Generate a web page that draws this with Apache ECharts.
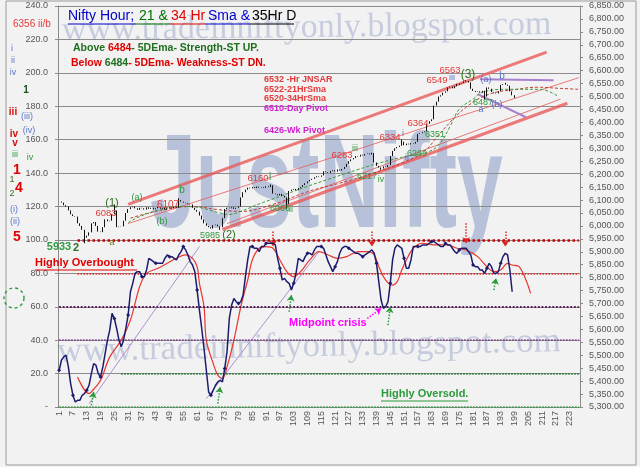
<!DOCTYPE html>
<html><head><meta charset="utf-8">
<script src="https://cdn.jsdelivr.net/npm/echarts@6/dist/echarts.min.js"></script>
<style>html,body{margin:0;padding:0;background:#f2f2f2;}#c{width:640px;height:467px;}</style>
</head><body><div id="c"></div>
<script>
// ---------- DATA ----------
const categories = [];
for (let k = 1; k <= 227; k++) categories.push(String(k));

const leftTicks = [0,20,40,60,80,100,120,140,160,180,200,220,240];

const priceClose = [
6094,6090,6080,6075,6060,6045,6038,6036,6010,6000,
5985,5955,5962,5975,6010,6015,6000,5978,5976,5995,
6025,6018,6020,6045,6060,5995,5997,5998,6020,6050,
6065,6072,6075,6068,6062,6070,6068,6063,6072,6066,
6070,6064,6068,6073,6066,6070,6062,6068,6072,6068,
6074,6070,6100,6094,6090,6088,6085,6083,6070,6062,
6055,6040,6025,6010,6000,5995,5990,6003,6005,5998,
5995,6030,6065,6070,6068,6072,6066,6070,6075,6110,
6130,6140,6148,6145,6150,6146,6152,6148,6150,6147,
6153,6150,6157,6125,6122,6118,6124,6116,6110,6085,
6135,6140,6143,6138,6146,6150,6158,6165,6172,6178,
6182,6188,6192,6190,6195,6211,6208,6205,6212,6215,
6210,6218,6214,6220,6228,6240,6250,6257,6262,6270,
6268,6275,6272,6278,6280,6276,6282,6245,6232,6226,
6222,6230,6228,6235,6270,6290,6300,6305,6310,6325,
6312,6318,6315,6320,6318,6325,6355,6358,6362,6365,
6395,6405,6412,6465,6480,6500,6505,6515,6520,6535,
6538,6532,6540,6545,6550,6552,6558,6560,6555,6530,
6522,6518,6520,6515,6522,6500,6535,6530,6518,6515,
6512,6520,6545,6548,6546,6542,6520,6505,6495];

// [bar number, low extreme, high extreme]
const priceWicks = [[12,5933,null],[25,null,6083],[53,null,6107],[71,5985,null],[93,null,6160],
  [100,6066,null],[137,null,6283],[141,6217,null],[150,null,6334],[174,null,6549],
  [178,null,6563],[186,6487,null],[195,null,6553]];

const oscValues = [
22,28,30,31,24,14,7,3,4,4, 7,8,10,13,20,26,25,20,18,24,
32,40,46,56,53,47,40,36,40,47, 55,69,74,80,81,81,78,78,82,89,
88,87,86,86,86,86,89,91,90,90, 89,88,91,93,96,94,91,87,85,81,
70,58,47,35,22,9,7,10,13,15, 16,15,23,33,53,61,65,63,62,63,
67,78,88,96,96,95,95,93,96,96, 98,98,98,98,97,89,83,76,77,75,
74,70,74,80,89,88,87,90,92,92, 91,94,96,96,96,95,91,87,84,81,
84,87,92,95,96,96,95,94,93,92, 92,91,90,91,92,93,94,92,86,75,
64,59,60,63,74,88,95,97,96,95, 89,83,83,88,96,96,96,96,97,97,
97,98,99,99,98,97,96,96,98,97, 97,95,93,92,94,95,95,95,93,91,
85,84,84,82,82,80,83,86,84,80, 80,81,86,90,92,91,82,69];

const oscSignal = [[9,18],[14,8],[15,9],[19,16],[23,30],[28,40],[32,52],[36,72],[39,80],[44,83],[48,86],
 [52,89],[56,91],[59,89],[61,84],[62,74],[64,60],[65,40],[68,26],[70,19],[72,17],[74,24],[77,40],[80,60],
 [83,76],[85,88],[88,95],[91,96],[94,95],[97,88],[100,81],[103,78],[106,81],[110,88],[114,93],[118,91],
 [122,89],[126,90],[131,93],[135,93],[138,91],[140,84],[143,76],[146,73],[148,75],[150,82],[152,88],
 [155,95],[159,98],[165,97],[170,97],[174,95],[178,94],[183,90],[187,84],[190,81],[193,82],[196,86],
 [198,85],[201,84],[204,76],[206,68]];

const sma21 = [[31,6013],[36,6036],[45,6063],[54,6075],[62,6071],[70,6052],[75,6044],[80,6056],[88,6085],
 [97,6114],[109,6153],[118,6180],[131,6218],[141,6245],[152,6269],[162,6288],[167,6323],[171,6385],
 [175,6451],[181,6490],[185,6517],[196,6528],[210,6528],[218,6501]];

const sma34 = [[32,6030],[45,6060],[59,6075],[70,6063],[80,6056],[94,6083],[110,6135],[123,6165],
 [138,6205],[152,6250],[160,6290],[167,6362],[178,6459],[188,6509],[200,6528],[209,6536],[218,6532],[227,6528]];

const channelUpper = [[31,6083],[213,6672]];
const channelMid   = [[31,6009],[227,6573]];
const channelLower = [[72,5986],[222,6474]];
const channelLower2= [[74,6009],[219,6490]];
const triTop = [[184,6567],[216,6563]];
const triBottom = [[183,6509],[204,6420]];
const oscTrend1 = [[14,2],[62,96]];
const oscTrend2 = [[65,5],[114,93]];

// oscillator levels: [level, first bar, colour, width]
const oscLevels = [[100,9,'#c00000',2.5],[80,9,'#e82020',1.5],[60,1,'#5a1a5a',1.8],[40,1,'#7a3a8a',1.5],[20,28,'#1a7a2a',1.5],[0,1,'#2a9a3a',1.5]];
const downArrows = [[94,105,96],[137,105,96],[178,110,98],[195,105,96]];
const upArrows = [[15,1,9],[70,2,12],[101,57,67],[144,49,60],[190,70,77]];

// ---------- BUILD ----------
const wickMap = {};
priceWicks.forEach(w => { wickMap[w[0]] = w; });
const candles = priceClose.map((c, k) => {
  const o = k ? priceClose[k-1] : c;
  let lo = Math.min(o, c), hi = Math.max(o, c);
  const w = wickMap[k+1];
  if (w) { if (w[1] != null) lo = Math.min(lo, w[1]); if (w[2] != null) hi = Math.max(hi, w[2]); }
  return [o, c, lo, hi];
});
const xy = arr => arr.map(p => [String(p[0]), p[1]]);

const markData = [];
oscLevels.forEach(L => {
  const ls = {color: L[2], width: L[3], type: 'dotted'};
  markData.push([{coord: [String(L[1]), L[0]], lineStyle: ls}, {coord: ['227', L[0]], lineStyle: ls}]);
});
downArrows.forEach(a => {
  const ls = {color: '#e02020', width: 1.5, type: 'dotted'};
  markData.push([{coord: [String(a[0]), a[1]], lineStyle: ls, symbol: 'none'}, {coord: [String(a[0]), a[2]], lineStyle: ls, symbol: 'arrow', symbolSize: [6, 6]}]);
});
upArrows.forEach(a => {
  const ls = {color: '#2a9a3a', width: 1.5, type: 'dotted'};
  markData.push([{coord: [String(a[0]), a[1]], lineStyle: ls, symbol: 'none'}, {coord: [String(a[0]+1), a[2]], lineStyle: ls, symbol: 'arrow', symbolSize: [6, 6]}]);
});
{
  const ls = {color: '#ff00ff', width: 1.5, type: 'dotted'};
  markData.push([{coord: ['135', 53], lineStyle: ls, symbol: 'none'}, {coord: ['141', 59], lineStyle: ls, symbol: 'arrow', symbolSize: [6, 6]}]);
}

const F = '"Liberation Sans", Arial, sans-serif';
function T(x, y, t, c, s, w, align) {
  return {type: 'text', x: x, y: y, z: 100,
    style: {text: t, fill: c, font: (w || 'normal') + ' ' + s + 'px ' + F, textAlign: align || 'center', textVerticalAlign: 'middle', verticalAlign: 'middle'}};
}
function L(x1, y1, x2, y2, c, w) {
  return {type: 'line', z: 100, shape: {x1: x1, y1: y1, x2: x2, y2: y2}, style: {stroke: c, lineWidth: w || 1}};
}
const RED = '#e23a3a', GRN = '#2f9a3f', DGRN = '#2f6f1f', BLU = '#5a78c8', MAG = '#d020d0';

const graphics = [
  {type: 'rect', z: 100, shape: {x: 6, y: 1, width: 630, height: 464}, style: {fill: 'none', stroke: '#9a9a9a', lineWidth: 1}},
  {type: 'text', x: 62, y: 31, z: -1, style: {text: 'www.tradeinniftyonly.blogspot.com', font: '34px "Liberation Serif", serif', fill: 'rgba(110,132,182,0.34)', textAlign: 'left', textVerticalAlign: 'middle', verticalAlign: 'middle'}, rotation: 0.012},
  {type: 'text', x: 57, y: 352, z: -1, style: {text: 'www.tradeinniftyonly.blogspot.com', font: '35px "Liberation Serif", serif', fill: 'rgba(110,132,182,0.34)', textAlign: 'left', textVerticalAlign: 'middle', verticalAlign: 'middle'}, rotation: 0.02},
  {type: 'text', x: 150, y: 190, z: -1, scaleX: 0.62, style: {text: 'JustNifty', font: 'bold 133px ' + F, fill: 'rgba(95,120,180,0.40)', textAlign: 'left', textVerticalAlign: 'middle', verticalAlign: 'middle'}},
  // title
  T(68, 16, 'Nifty Hour;', '#0000cc', 14, 'normal', 'left'),
  T(139, 16, '21 &', '#007000', 14, 'normal', 'left'),
  T(171, 16, '34 Hr', '#e00000', 14, 'normal', 'left'),
  T(208, 16, 'Sma &', '#0000cc', 14, 'normal', 'left'),
  T(252, 16, '35Hr D', '#000000', 14, 'normal', 'left'),
  L(68, 24, 136, 24, '#0000cc', 1.2), L(136, 24, 169, 24, '#007000', 1.2), L(169, 24, 206, 24, '#e00000', 1.2),
  L(206, 24, 250, 24, '#0000cc', 1.2), L(250, 24, 294, 24, '#000', 1.2),
  {type: 'text', x: 73, y: 48, z: 100, style: {text: '{g|Above }{r|6484}{g|- 5DEma- Strength-ST UP.}', textAlign: 'left', textVerticalAlign: 'middle', verticalAlign: 'middle',
    rich: {g: {fill: '#1f6f1f', font: 'bold 10.5px ' + F}, r: {fill: '#e00000', font: 'bold 10.5px ' + F}}}},
  {type: 'text', x: 71, y: 63, z: 100, style: {text: '{r|Below }{g|6484}{r|- 5DEma- Weakness-ST DN.}', textAlign: 'left', textVerticalAlign: 'middle', verticalAlign: 'middle',
    rich: {g: {fill: '#1f6f1f', font: 'bold 10.5px ' + F}, r: {fill: '#e00000', font: 'bold 10.5px ' + F}}}},
  // right info block
  T(264, 80, '6532 -Hr JNSAR', RED, 9, 'bold', 'left'),
  T(264, 90, '6522-21HrSma', RED, 9, 'bold', 'left'),
  T(264, 99, '6520-34HrSma', RED, 9, 'bold', 'left'),
  T(264, 109, '6510-Day Pivot', MAG, 9, 'bold', 'left'),
  T(264, 131, '6426-Wk Pivot', MAG, 9, 'bold', 'left'),
  // left column
  T(13, 24, '6356 ii/b', RED, 10, 'normal', 'left'),
  T(12, 49, 'i', BLU, 9), T(13, 61, 'ii', BLU, 9), T(13, 73, 'iv', BLU, 9),
  T(26, 90, '1', '#1f4f1f', 10, 'bold'),
  T(13, 112, 'iii', '#d01010', 10, 'bold'), T(27, 117, '(iii)', BLU, 9), T(29, 131, '(iv)', BLU, 9),
  T(14, 134, 'iv', '#d01010', 10, 'bold'), T(15, 143, 'v', '#d01010', 10, 'bold'),
  T(15, 155, 'iii', GRN, 9), T(30, 158, 'iv', GRN, 9),
  T(17, 170, '1', '#e00000', 14, 'bold'), T(12, 180, '1', DGRN, 9),
  T(19, 188, '4', '#e00000', 14, 'bold'), T(12, 194, '2', DGRN, 9),
  T(14, 210, '(i)', BLU, 9), T(15, 222, '(ii)', BLU, 9),
  T(17, 237, '5', '#e00000', 14, 'bold'),
  T(59, 247, '5933', GRN, 11, 'bold'), T(76, 248, '2', DGRN, 11, 'bold'),
  {type: 'circle', z: 100, shape: {cx: 14, cy: 298, r: 10}, style: {fill: 'none', stroke: '#2a9a3a', lineWidth: 1.4, lineDash: [3, 3]}},
  // price annotations
  T(106, 213, '6083', RED, 9.5), T(112, 203, '(1)', DGRN, 11), T(137, 198, '(a)', GRN, 9),
  T(168, 205, '6107', RED, 10), T(182, 190, 'b', GRN, 10), T(162, 222, '(b)', GRN, 9),
  T(112, 243, 'a', '#6a7a1a', 9), T(210, 236, '5985', GRN, 9), T(229, 235, '(2)', DGRN, 11),
  T(258, 178, '6160', RED, 9.5), T(270, 177, 'i', GRN, 10), T(280, 209, '6066', GRN, 9), T(291, 210, 'ii', GRN, 9),
  T(342, 155, '6283', RED, 9.5), T(355, 149, 'iii', GRN, 9),
  T(390, 137, '6334', RED, 9.5), T(403, 134, 'i', '#7080a0', 9),
  T(418, 123, '6364', RED, 9.5), T(435, 135, '6351', GRN, 9), T(417, 154, '6269', GRN, 9), T(407, 158, 'ii', BLU, 9),
  T(367, 177, '6217', GRN, 9), T(381, 180, 'iv', GRN, 9),
  T(437, 80, '6549', RED, 9.5), T(452, 78, 'iii', BLU, 9), T(450, 70, '6563', RED, 9.5),
  T(468, 75, '(3)', DGRN, 12), T(486, 80, '(a)', BLU, 9), T(502, 76, 'b', BLU, 10),
  T(483, 103, '6487', GRN, 9), T(497, 105, '(b)', BLU, 9), T(481, 110, 'a', BLU, 9),
  // oscillator annotations
  T(35, 263, 'Highly Overbought', '#e00000', 11, 'bold', 'left'), L(35, 270, 137, 270, '#e00000', 1.2),
  T(289, 323, 'Midpoint crisis', '#ff00ff', 11, 'bold', 'left'),
  T(381, 394, 'Highly Oversold.', '#2a9a3a', 11, 'bold', 'left'), L(381, 401, 468, 401, '#2a9a3a', 1.2)
];

const chart = echarts.init(document.getElementById('c'), null, {renderer: 'canvas'});
chart.setOption({
  animation: false,
  backgroundColor: '#f2f2f2',
  grid: {left: 58, right: 60, top: 6, bottom: 60, containLabel: false},
  xAxis: {type: 'category', data: categories, boundaryGap: true,
    axisLine: {lineStyle: {color: '#8a8a8a'}},
    axisTick: {interval: 0, length: 3, lineStyle: {color: '#8a8a8a'}},
    axisLabel: {interval: 5, rotate: 90, fontSize: 9, color: '#555', margin: 4, fontFamily: 'Liberation Sans'},
    splitLine: {show: false}},
  yAxis: [
    {type: 'value', min: 0, max: 240, interval: 20, position: 'left',
     axisLine: {show: true, lineStyle: {color: '#8a8a8a'}}, axisTick: {show: true, length: 3, lineStyle: {color: '#8a8a8a'}},
     axisLabel: {fontSize: 9, color: '#555', margin: 10, fontFamily: 'Liberation Sans',
       formatter: v => v === 0 ? '-' : v.toFixed(1)},
     splitLine: {show: true, lineStyle: {color: '#8c8c8c', width: 1}}},
    {type: 'value', min: 5300, max: 6850, interval: 50, position: 'right',
     axisLine: {show: true, lineStyle: {color: '#8a8a8a'}}, axisTick: {show: true, length: 3, lineStyle: {color: '#8a8a8a'}},
     axisLabel: {fontSize: 9, color: '#555', margin: 9, fontFamily: 'Liberation Sans',
       formatter: v => v.toLocaleString('en-US', {minimumFractionDigits: 2, maximumFractionDigits: 2})},
     splitLine: {show: false}}
  ],
  graphic: graphics,
  series: [
    {type: 'line', yAxisIndex: 1, data: xy(channelUpper), symbol: 'none', lineStyle: {color: 'rgba(232,90,90,0.8)', width: 3}, z: 3},
    {type: 'line', yAxisIndex: 1, data: xy(channelMid), symbol: 'none', lineStyle: {color: 'rgba(230,90,90,0.8)', width: 1}, z: 3},
    {type: 'line', yAxisIndex: 1, data: xy(channelLower), symbol: 'none', lineStyle: {color: 'rgba(232,90,90,0.8)', width: 3}, z: 3},
    {type: 'line', yAxisIndex: 1, data: xy(channelLower2), symbol: 'none', lineStyle: {color: 'rgba(230,90,90,0.8)', width: 1}, z: 3},
    {type: 'line', yAxisIndex: 1, data: xy(triTop), symbol: 'none', lineStyle: {color: '#a880d0', width: 2}, z: 3},
    {type: 'line', yAxisIndex: 1, data: xy(triBottom), symbol: 'none', lineStyle: {color: '#a880d0', width: 2}, z: 3},
    {type: 'line', yAxisIndex: 1, data: xy(sma34), symbol: 'none', smooth: 0.4, lineStyle: {color: '#c83a30', width: 1, type: [3, 2]}, z: 4},
    {type: 'line', yAxisIndex: 1, data: xy(sma21), symbol: 'none', smooth: 0.4, lineStyle: {color: '#3a9a3a', width: 1, type: [3, 2]}, z: 4},
    {type: 'candlestick', yAxisIndex: 1, data: candles, barWidth: 1,
     itemStyle: {color: '#111', color0: '#111', borderColor: '#111', borderColor0: '#111', borderWidth: 1}, z: 5},
    {type: 'line', yAxisIndex: 0, data: xy(oscTrend1), symbol: 'none', lineStyle: {color: '#b090d0', width: 1}, z: 3},
    {type: 'line', yAxisIndex: 0, data: xy(oscTrend2), symbol: 'none', lineStyle: {color: '#b090d0', width: 1}, z: 3},
    {type: 'line', yAxisIndex: 0, data: xy(oscSignal), symbol: 'none', smooth: 0.35, lineStyle: {color: '#e8362e', width: 1.2}, z: 4},
    {type: 'line', yAxisIndex: 0, data: oscValues, symbol: 'diamond', symbolSize: 4,
     itemStyle: {color: '#1c1c6e'}, lineStyle: {color: '#1c1c6e', width: 1.5}, z: 5,
     markLine: {silent: true, symbol: ['none', 'none'], label: {show: false}, animation: false, data: markData}}
  ]
});
</script></body></html>
